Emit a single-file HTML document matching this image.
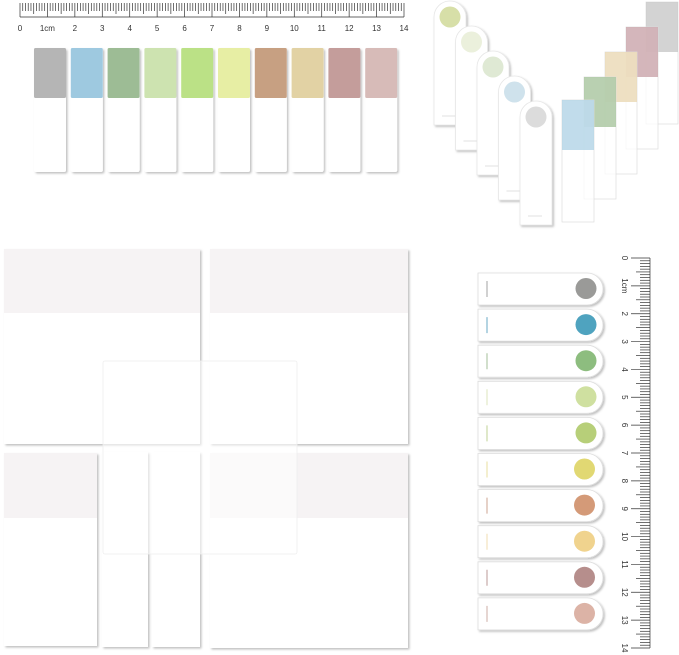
<!DOCTYPE html>
<html><head><meta charset="utf-8"><style>
html,body{margin:0;padding:0;background:#fff}
svg{display:block;font-family:"Liberation Sans",sans-serif}
</style></head><body>
<svg id="s" width="679" height="655" viewBox="0 0 679 655" xmlns="http://www.w3.org/2000/svg">
<defs>
<filter id="sh" x="-10%" y="-10%" width="130%" height="130%"><feDropShadow dx="1.5" dy="1.5" stdDeviation="1" flood-color="#000" flood-opacity="0.25"/></filter>
</defs>
<rect width="679" height="655" fill="#fff"/>
<!-- big sticky notes -->
<g filter="url(#sh)">
<rect x="4" y="249" width="196" height="195" fill="#fff"/>
<rect x="210" y="249" width="198" height="195" fill="#fff"/>
<rect x="4" y="453" width="93" height="193" fill="#fff"/>
<rect x="102" y="452" width="46" height="195" fill="#fff"/>
<rect x="152" y="452" width="48" height="195" fill="#fff"/>
<rect x="210" y="453" width="198" height="195" fill="#fff"/>
</g>
<rect x="4" y="249" width="196" height="64" fill="#f6f3f4"/>
<rect x="210" y="249" width="198" height="64" fill="#f6f3f4"/>
<rect x="4" y="453" width="93" height="65" fill="#f6f3f4"/>
<rect x="210" y="453" width="198" height="65" fill="#f6f3f4"/>
<rect x="103" y="361" width="194" height="193" rx="2" fill="#fff" fill-opacity="0.55" stroke="#eee" stroke-width="0.8"/>
<g id="g"></g>
</svg>
<script>
const g=document.getElementById('g');let h='';
// top ruler
for(let i=0;i<=140;i++){const x=20+i*384/140;const L=i%10==0?14:(i%5==0?11:8);h+=`<line x1="${x}" y1="3" x2="${x}" y2="${3+L}" stroke="#333" stroke-width="0.7"/>`;}
h+=`<line x1="20" y1="17" x2="404" y2="17" stroke="#333" stroke-width="0.7"/>`;
for(let i=0;i<=14;i++){const x=20+i*384/14;h+=`<text x="${x}" y="31" font-size="8" text-anchor="middle" fill="#333">${i==1?'1cm':i}</text>`;}
// top tabs
const tc=['#b5b5b5','#9ec9e0','#9dbc95','#cde3b0','#bbe186','#e7eea4','#c7a082','#e2d2a4','#c49d9b','#d7bbb8'];
for(let i=0;i<10;i++){const x=34+i*36.8;h+=`<rect x="${x}" y="48" width="32" height="124" rx="2" fill="#fff" filter="url(#sh)"/><rect x="${x}" y="48" width="32" height="50" rx="1.5" fill="${tc[i]}"/>`;}
// top-right bookmarks
const bc=['#d7dfa8','#ebf0dc','#dfe9d4','#cfe2ec','#dcdcdc'];
for(let i=0;i<5;i++){const x=434+i*21.5,y=2+i*25;h+=`<path d="M${x} ${y+123}V${y+15}A16 16 0 0 1 ${x+32} ${y+15}V${y+123}Z" fill="#fff" stroke="#e6e6e6" stroke-width="0.8" filter="url(#sh)"/><circle cx="${x+16}" cy="${y+15}" r="10.5" fill="${bc[i]}"/><line x1="${x+8}" y1="${y+114}" x2="${x+22}" y2="${y+114}" stroke="#ccc" stroke-width="0.6"/>`;}
const sq=[[646,2,'#c8c8c8'],[626,27,'#c9a4aa'],[605,52,'#ead8b4'],[584,77,'#a8c49e'],[562,100,'#b1d3e6']];
for(const[x,y,c] of sq){h+=`<rect x="${x}" y="${y}" width="32" height="122" fill="#fff" fill-opacity="0.7" stroke="#ddd" stroke-width="0.7"/><rect x="${x}" y="${y}" width="32" height="50" fill="${c}" fill-opacity="0.8"/>`;}
// right tabs
const rc=['#9a9a98','#4fa3bf','#8dbd7f','#cfe0a0','#b7cf79','#e1d873','#d49a78','#f0d38e','#b68e8c','#dcb3a6'];
const lc=['#999','#5a9fc0','#9ab88d','#d9e4b5','#b9ce8a','#e6dc95','#c99a85','#f0d9a8','#b48e8c','#c7a59c'];
for(let i=0;i<10;i++){const y=273+i*36.1;h+=`<path d="M478 ${y}H587A16 16 0 0 1 587 ${y+32}H478Z" fill="#fff" stroke="#ddd" stroke-width="0.8" filter="url(#sh)"/><circle cx="${586-(i>4?1.5:0)}" cy="${y+15.5}" r="10.5" fill="${rc[i]}"/><line x1="487" y1="${y+8}" x2="487" y2="${y+24}" stroke="${lc[i]}" stroke-width="0.9"/>`;}
// vertical ruler
for(let i=0;i<=140;i++){const y=258+i*390/140;const L=i%10==0?19:(i%5==0?14:10);h+=`<line x1="${650-L}" y1="${y}" x2="650" y2="${y}" stroke="#333" stroke-width="0.7"/>`;}
h+=`<line x1="650" y1="258" x2="650" y2="648" stroke="#333" stroke-width="0.7"/>`;
for(let i=0;i<=14;i++){const y=258+i*390/14;h+=`<text x="0" y="0" font-size="8" text-anchor="middle" fill="#333" transform="translate(622 ${y}) rotate(90)">${i==1?'1cm':i}</text>`;}
g.innerHTML=h;
</script>
</body></html>
